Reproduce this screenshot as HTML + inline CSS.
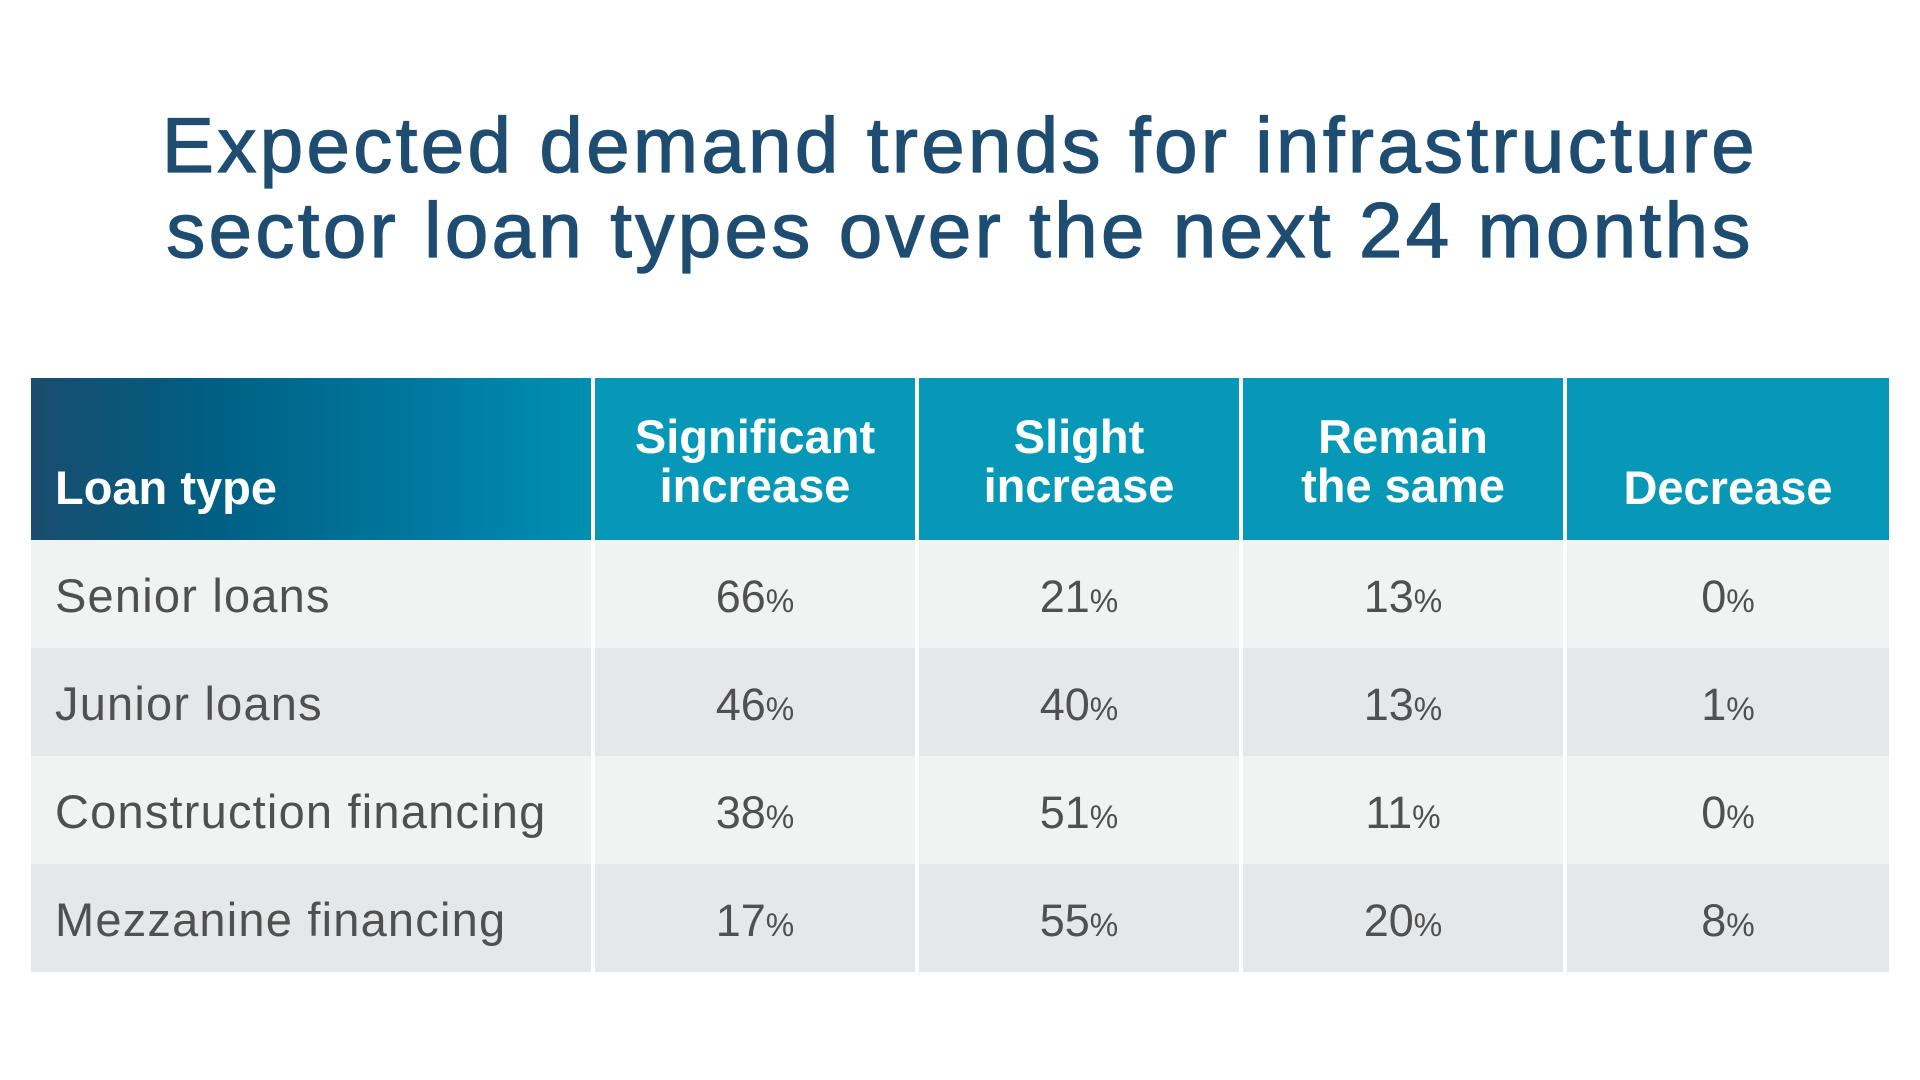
<!DOCTYPE html>
<html>
<head>
<meta charset="utf-8">
<style>
  html, body { margin:0; padding:0; }
  body { width:1920px; height:1080px; background:#ffffff; position:relative; overflow:hidden;
         font-family:"Liberation Sans", Arial, sans-serif; }
  .title { position:absolute; left:0; top:103px; width:1920px; text-align:center;
           font-size:78px; line-height:85px; letter-spacing:3.4px; color:#1f4d72;
           -webkit-text-stroke:1.3px #1f4d72; white-space:nowrap; }
  .hd { position:absolute; top:378px; height:162px; }
  .hd1 { left:31px; width:560px; background:linear-gradient(to right, #1a4c6f 0%, #005e81 30%, #0078a0 70%, #0090b1 100%); }
  .hdt { background:#0898b7; }
  .ht { position:absolute; left:0; width:100%; text-align:center; color:#fff; font-weight:bold;
        font-size:47px; line-height:49px; white-space:nowrap; }
  .cell { position:absolute; height:108px; }
  .light { background:#f1f2f2; }
  .dark { background:#e6e7e8; }
  .lbl { font-size:47px; line-height:108px; color:#505050; padding-left:24px; box-sizing:border-box;
         letter-spacing:1.2px; padding-top:2px; white-space:nowrap; }
  .num { font-size:45px; line-height:108px; color:#505050; text-align:center; padding-top:3px; box-sizing:border-box; white-space:nowrap; }
  .num small { font-size:32px; }
</style>
</head>
<body>
  <div class="title">Expected demand trends for infrastructure<br>sector loan types over the next 24 months</div>

  <!-- header -->
  <div class="hd hd1"><div class="ht" style="top:85px;text-align:left;padding-left:24px;box-sizing:border-box;">Loan type</div></div>
  <div class="hd hdt" style="left:595px;width:320px;"><div class="ht" style="top:34px;">Significant<br>increase</div></div>
  <div class="hd hdt" style="left:919px;width:320px;"><div class="ht" style="top:34px;">Slight<br>increase</div></div>
  <div class="hd hdt" style="left:1243px;width:320px;"><div class="ht" style="top:34px;">Remain<br>the same</div></div>
  <div class="hd hdt" style="left:1567px;width:322px;"><div class="ht" style="top:85px;">Decrease</div></div>

  <!-- row 1 -->
  <div class="cell light lbl" style="top:540px;left:31px;width:560px;">Senior loans</div>
  <div class="cell light num" style="top:540px;left:595px;width:320px;">66<small>%</small></div>
  <div class="cell light num" style="top:540px;left:919px;width:320px;">21<small>%</small></div>
  <div class="cell light num" style="top:540px;left:1243px;width:320px;">13<small>%</small></div>
  <div class="cell light num" style="top:540px;left:1567px;width:322px;">0<small>%</small></div>

  <!-- row 2 -->
  <div class="cell dark lbl" style="top:648px;left:31px;width:560px;">Junior loans</div>
  <div class="cell dark num" style="top:648px;left:595px;width:320px;">46<small>%</small></div>
  <div class="cell dark num" style="top:648px;left:919px;width:320px;">40<small>%</small></div>
  <div class="cell dark num" style="top:648px;left:1243px;width:320px;">13<small>%</small></div>
  <div class="cell dark num" style="top:648px;left:1567px;width:322px;">1<small>%</small></div>

  <!-- row 3 -->
  <div class="cell light lbl" style="top:756px;left:31px;width:560px;">Construction financing</div>
  <div class="cell light num" style="top:756px;left:595px;width:320px;">38<small>%</small></div>
  <div class="cell light num" style="top:756px;left:919px;width:320px;">51<small>%</small></div>
  <div class="cell light num" style="top:756px;left:1243px;width:320px;">11<small>%</small></div>
  <div class="cell light num" style="top:756px;left:1567px;width:322px;">0<small>%</small></div>

  <!-- row 4 -->
  <div class="cell dark lbl" style="top:864px;left:31px;width:560px;">Mezzanine financing</div>
  <div class="cell dark num" style="top:864px;left:595px;width:320px;">17<small>%</small></div>
  <div class="cell dark num" style="top:864px;left:919px;width:320px;">55<small>%</small></div>
  <div class="cell dark num" style="top:864px;left:1243px;width:320px;">20<small>%</small></div>
  <div class="cell dark num" style="top:864px;left:1567px;width:322px;">8<small>%</small></div>
</body>
</html>
